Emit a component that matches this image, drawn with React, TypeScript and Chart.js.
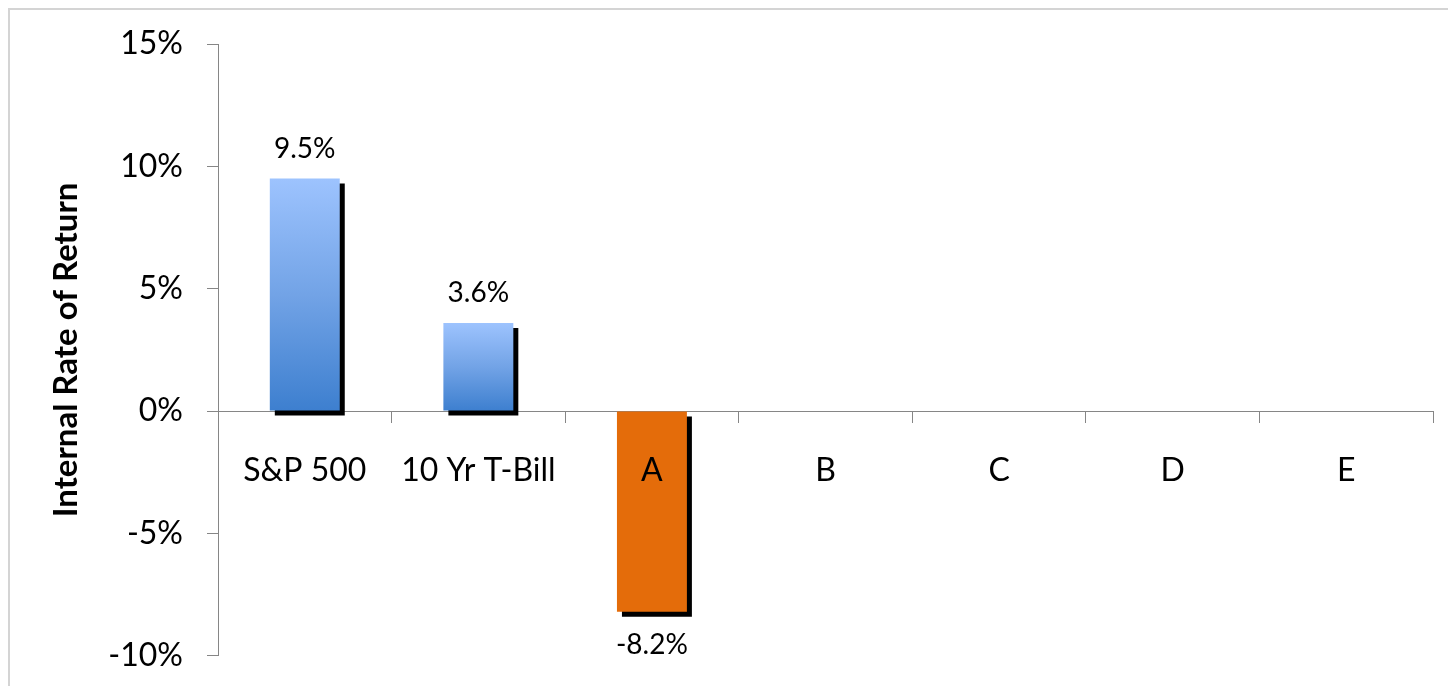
import React, { useEffect, useRef } from "react";
import { Chart, registerables } from "chart.js";

Chart.register(...registerables);

const categories = ["S&P 500", "10 Yr T-Bill", "A", "B", "C", "D", "E"];
const irrValues: (number | null)[] = [9.5, 3.6, -8.2, null, null, null, null];
const yTicks = [-10, -5, 0, 5, 10, 15];
const yAxisTitle = "Internal Rate of Return";

const FONT = "Lato, 'Open Sans', sans-serif";
const AXIS_GRAY = "#868686";

const shadowPlugin = {
  id: "barShadow",
  beforeDatasetDraw(chart: any) {
    const ctx = chart.ctx;
    ctx.save();
    ctx.shadowColor = "#000000";
    ctx.shadowBlur = 0;
    ctx.shadowOffsetX = 5;
    ctx.shadowOffsetY = 5;
  },
  afterDatasetDraw(chart: any) {
    chart.ctx.restore();
  },
};

const valueLabelPlugin = {
  id: "valueLabels",
  afterDatasetsDraw(chart: any) {
    const ctx = chart.ctx;
    const meta = chart.getDatasetMeta(0);
    ctx.save();
    ctx.font = `28px ${FONT}`;
    ctx.fillStyle = "#000000";
    ctx.textAlign = "center";
    ctx.textBaseline = "middle";
    meta.data.forEach((bar: any, i: number) => {
      const v = irrValues[i];
      if (v === null || v === undefined) return;
      const y = v >= 0 ? bar.y - 30 : bar.y + 33;
      ctx.fillText(`${v.toFixed(1)}%`, bar.x, y);
    });
    ctx.restore();
  },
};

export default function App() {
  const canvasRef = useRef<HTMLCanvasElement | null>(null);

  useEffect(() => {
    if (!canvasRef.current) return;
    const chart = new Chart(canvasRef.current, {
      type: "bar",
      data: {
        labels: categories,
        datasets: [
          {
            data: irrValues as any,
            backgroundColor: (c: any) => {
              const v = irrValues[c.dataIndex];
              if (v !== null && v !== undefined && v < 0) return "#E46C0A";
              const chartObj = c.chart;
              const ys = chartObj.scales?.y;
              if (!ys || v === null || v === undefined) return "#6FA0E4";
              const top = ys.getPixelForValue(v);
              const base = ys.getPixelForValue(0);
              if (!Number.isFinite(top) || !Number.isFinite(base) || top === base) return "#6FA0E4";
              const g = chartObj.ctx.createLinearGradient(0, top, 0, base);
              g.addColorStop(0, "#9DC3FE");
              g.addColorStop(0.5, "#72A3E6");
              g.addColorStop(1, "#3D7FCF");
              return g;
            },
            borderWidth: 0,
            barPercentage: 0.403,
            categoryPercentage: 1,
          },
        ],
      },
      options: {
        responsive: false,
        animation: false,
        layout: { padding: { left: 0, right: 15, top: 44, bottom: 0 } },
        plugins: {
          legend: { display: false },
          tooltip: { enabled: false },
          title: { display: false },
        },
        scales: {
          x: {
            type: "category",
            position: { y: 0 } as any,
            offset: true,
            grid: {
              display: true,
              offset: true,
              drawOnChartArea: false,
              drawTicks: true,
              tickLength: 11,
              color: AXIS_GRAY,
            },
            border: { display: true, color: AXIS_GRAY, width: 1 },
            ticks: {
              color: "#000000",
              font: { family: FONT, size: 32 },
              padding: 29,
              maxRotation: 0,
              autoSkip: false,
              z: 2,
            } as any,
          },
          y: {
            min: -10,
            max: 15,
            afterBuildTicks: (scale: any) => {
              scale.ticks = yTicks.map((v) => ({ value: v }));
            },
            afterFit: (scale: any) => {
              scale.width = 218;
            },
            grid: {
              display: true,
              drawOnChartArea: false,
              drawTicks: true,
              tickLength: 11,
              color: AXIS_GRAY,
            },
            border: { display: true, color: AXIS_GRAY, width: 1 },
            ticks: {
              color: "#000000",
              font: { family: FONT, size: 32 },
              padding: 24,
              callback: (v: any) => `${v}%`,
            },
            title: {
              display: true,
              text: yAxisTitle,
              color: "#000000",
              font: { family: FONT, size: 33, weight: "bold" },
              padding: { top: 47, bottom: 0 },
            },
          },
        },
      },
      plugins: [shadowPlugin, valueLabelPlugin],
    });
    return () => chart.destroy();
  }, []);

  return (
    <div
      style={{
        position: "fixed",
        left: 0,
        top: 0,
        width: 1448,
        height: 686,
        background: "#ffffff",
        overflow: "hidden",
      }}
    >
      <div
        style={{
          position: "absolute",
          left: 8,
          top: 8,
          width: 1480,
          height: 720,
          borderTop: "2px solid #d4d4d4",
          borderLeft: "2px solid #d4d4d4",
        }}
      />
      <canvas
        ref={canvasRef}
        width={1448}
        height={699}
        style={{ position: "absolute", left: 0, top: 0, width: 1448, height: 699 }}
      />
    </div>
  );
}
